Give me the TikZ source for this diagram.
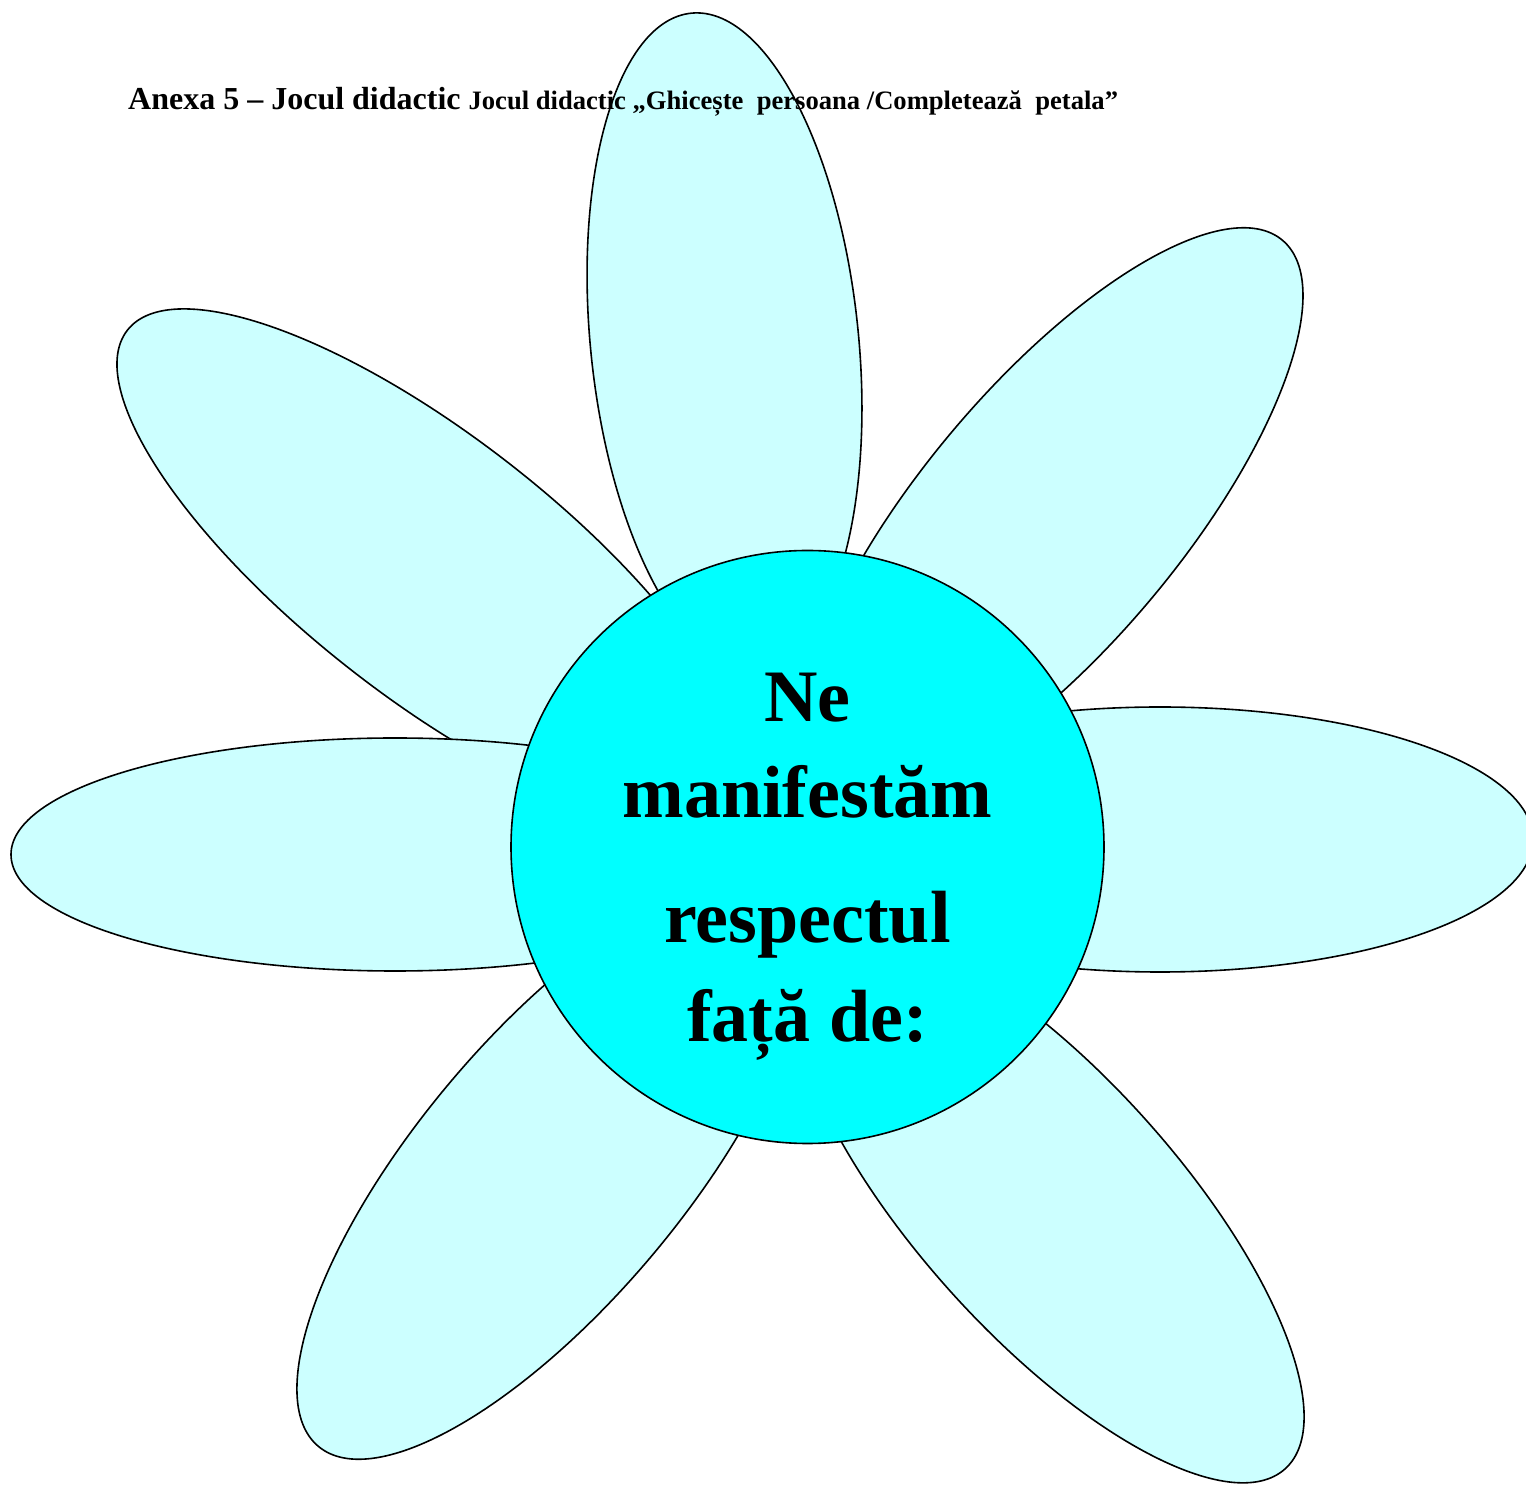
\documentclass[tikz,border=0pt]{standalone}
\usepackage{fontspec}
\setmainfont{Liberation Serif}
\definecolor{petalfill}{HTML}{CCFFFF}
\definecolor{hubfill}{HTML}{00FFFF}
\begin{document}
\begin{tikzpicture}[x=1pt,y=1pt,
  petal/.style={draw=black, line width=1.6pt, fill=petalfill},
  hubtext/.style={anchor=base, inner sep=0pt, font=\fontsize{74}{80}\selectfont\bfseries}]
\useasboundingbox (0,0) rectangle (1526,1484);
\clip (0,0) rectangle (1526,1484);
\fill[white] (0,0) rectangle (1526,1484);
% petals (upper-left first, left on top of it)
\draw[petal, rotate around={-38:(430.8,916.8)}] (430.8,916.8) ellipse [x radius=385, y radius=130];
\draw[petal] (395,629.5) ellipse [x radius=384, y radius=116.5];
\draw[petal, rotate around={95.8:(724.5,1142.5)}] (724.5,1142.5) ellipse [x radius=330, y radius=134];
\draw[petal, rotate around={50:(1051,968)}] (1051,968) ellipse [x radius=360, y radius=130];
\draw[petal] (1160,644.5) ellipse [x radius=373, y radius=132.5];
\draw[petal, rotate around={-48:(1047.6,279)}] (1047.6,279) ellipse [x radius=355, y radius=130];
\draw[petal, rotate around={50:(551,315)}] (551,315) ellipse [x radius=362, y radius=133];
% centre
\node[circle, draw=black, line width=1.6pt, fill=hubfill, minimum size=593pt, inner sep=0pt] (hub) at (807.5,637) {};
\node[hubtext] (l1) at (807.5,762) {Ne};
\node[hubtext] (l2) at (807.5,666) {manifestăm};
\node[hubtext] (l3) at (807.5,541) {respectul};
\node[hubtext] (l4) at (807.5,442) {față de:};
% title
\node[anchor=base west, inner sep=0pt] (title) at (128,1374)
  {\bfseries\fontsize{32}{36}\selectfont Anexa 5 – Jocul didactic \fontsize{26.6}{30}\selectfont Jocul didactic „Ghicește\ \ persoana /Completează\ \ petala”};
\end{tikzpicture}
\end{document}
